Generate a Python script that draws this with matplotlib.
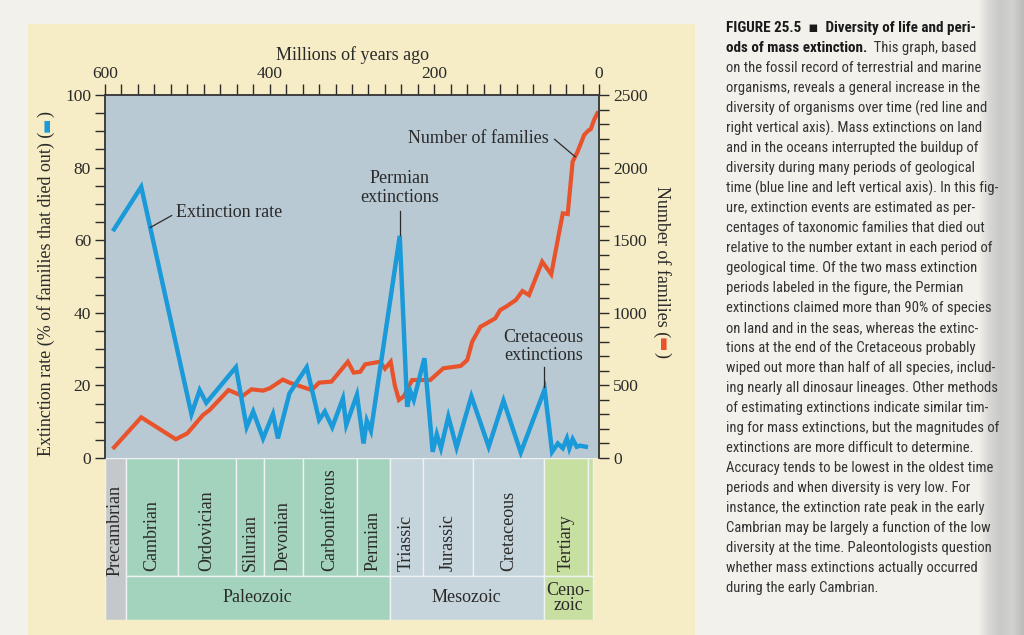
import numpy as np
import matplotlib.pyplot as plt
from matplotlib import font_manager as fm
from matplotlib.patches import Rectangle
from matplotlib.colors import LinearSegmentedColormap

# extinction rate (% of families that died out), blue line, left axis
ext_age = [589, 556, 495, 485, 477, 441, 428, 420, 408, 396, 390, 376, 355, 340,
           333, 324, 311, 307, 294, 286, 282, 277, 242, 233, 229, 225, 212, 202,
           197, 192, 183, 173, 155, 134, 116, 95, 66, 57, 50, 44, 39, 36, 32, 27,
           23, 16]
ext_rate = [63, 74.7, 12.1, 18.7, 15.2, 25, 8.5, 12.8, 5.4, 12.1, 5.4, 17.8, 25, 10.5,
            12.8, 8.5, 16.4, 9.1, 17.4, 4, 10.3, 7.5, 61.2, 14.1, 18.3, 16, 27.5, 1.7,
            6.5, 2.7, 11.4, 2.9, 17, 3.1, 15.8, 1.5, 18.9, 1.7, 4, 2.7, 5.4, 2.7, 5.2, 3.1,
            3.4, 3.1]

# number of families, red line, right axis
fam_age = [589, 556, 514, 500, 481, 473, 450, 433, 422, 408, 400, 384, 376, 349,
           340, 325, 305, 298, 290, 284, 266, 260, 253, 248, 243, 237, 227, 205,
           189, 168, 160, 154, 144, 140, 126, 120, 113, 101, 93, 85, 69, 58, 54,
           44, 38, 32, 26, 18, 13, 10, 6, 2]
fam_count = [73, 280, 129, 170, 296, 330, 468, 427, 473, 464, 480, 540, 519, 468,
             519, 526, 663, 588, 594, 645, 663, 615, 663, 500, 400, 425, 537, 537,
             618, 634, 675, 801, 904, 916, 962, 1019, 1042, 1088, 1150, 1122, 1352, 1265, 1386,
             1685, 1680, 2041, 2110, 2225, 2255, 2265, 2328, 2374]

# geological time table
period_names = ['Precambrian', 'Cambrian', 'Ordovician', 'Silurian', 'Devonian',
                'Carboniferous', 'Permian', 'Triassic', 'Jurassic', 'Cretaceous',
                'Tertiary', '']
period_edges = [600, 575, 511, 441, 407, 360, 294, 254, 214, 153, 67, 13, 7]
period_era = [-1, 0, 0, 0, 0, 0, 0, 1, 1, 1, 2, 2]
era_names = ['Paleozoic', 'Mesozoic', 'Ceno-\nzoic']
era_edges = [575, 254, 67, 7]
era_colors = ['#a4d3bd', '#c6d4db', '#c8dfa2']

caption = [
    "on the fossil record of terrestrial and marine",
    "organisms, reveals a general increase in the",
    "diversity of organisms over time (red line and",
    "right vertical axis). Mass extinctions on land",
    "and in the oceans interrupted the buildup of",
    "diversity during many periods of geological",
    "time (blue line and left vertical axis). In this fig-",
    "ure, extinction events are estimated as per-",
    "centages of taxonomic families that died out",
    "relative to the number extant in each period of",
    "geological time. Of the two mass extinction",
    "periods labeled in the figure, the Permian",
    "extinctions claimed more than 90% of species",
    "on land and in the seas, whereas the extinc-",
    "tions at the end of the Cretaceous probably",
    "wiped out more than half of all species, includ-",
    "ing nearly all dinosaur lineages. Other methods",
    "of estimating extinctions indicate similar tim-",
    "ing for mass extinctions, but the magnitudes of",
    "extinctions are more difficult to determine.",
    "Accuracy tends to be lowest in the oldest time",
    "periods and when diversity is very low. For",
    "instance, the extinction rate peak in the early",
    "Cambrian may be largely a function of the low",
    "diversity at the time. Paleontologists question",
    "whether mass extinctions actually occurred",
    "during the early Cambrian.",
]

BLUE = '#1a9ad8'
RED = '#e8532b'
INK = '#2a2a2a'

plt.rcParams['font.family'] = ['Liberation Serif', 'DejaVu Serif']

# condensed sans for the caption, whichever is installed
names = {f.name for f in fm.fontManager.ttflist}
if 'Roboto Condensed' in names:
    cap_family, cap_size = ['Roboto Condensed', 'DejaVu Sans'], 10.5
elif 'Liberation Sans Narrow' in names:
    cap_family, cap_size = ['Liberation Sans Narrow', 'DejaVu Sans'], 10.5
else:
    cap_family, cap_size = ['Roboto', 'DejaVu Sans'], 8.5

W, H = 1024, 635
fig = plt.figure(figsize=(W / 100, H / 100), dpi=100, facecolor='#f2f1ec')

# yellow panel behind the chart
fig.add_artist(Rectangle((28 / W, 0), 667 / W, 611 / H, transform=fig.transFigure,
                         facecolor='#f6edc6', edgecolor='none', zorder=0))

# gutter shadow at the right edge of the page
gutter = LinearSegmentedColormap.from_list(
    'gutter', ['#f2f1ec', '#d6d6d4', '#c9c9c8', '#d2d2d1', '#bcbcbb'])
gax = fig.add_axes([978 / W, 0, 46 / W, 1])
gax.imshow(np.linspace(0, 1, 46)[None, :], aspect='auto', cmap=gutter,
           extent=[0, 1, 0, 1])
gax.axis('off')

# main chart
ax = fig.add_axes([105 / W, 1 - 458 / H, 494 / W, 363 / H])
ax2 = ax.twinx()
ax.set_zorder(ax2.get_zorder() + 1)
ax.patch.set_visible(False)
ax2.patch.set_visible(True)
ax2.set_facecolor('#b9c9d4')

ax2.plot(fam_age, fam_count, color=RED, lw=3.0, solid_joinstyle='miter')
ax.plot(ext_age, ext_rate, color=BLUE, lw=3.2, solid_joinstyle='miter')

ax.set_xlim(600, 0)
ax.set_ylim(0, 100)
ax2.set_ylim(0, 2500)

ax.xaxis.tick_top()
ax.xaxis.set_label_position('top')
ax.set_xticks([600, 400, 200, 0])
ax.set_xticks(np.arange(0, 601, 20), minor=True)
ax.tick_params(axis='x', which='both', top=True, bottom=False, labeltop=True,
               labelbottom=False, direction='out', length=8, width=1, pad=1,
               labelsize=12.5, colors=INK)
ax.set_xlabel('Millions of years ago', fontsize=13, color=INK, labelpad=5)

ax.set_yticks(range(0, 101, 20))
ax.set_yticks(range(0, 101, 5), minor=True)
ax.tick_params(axis='y', which='both', direction='out', length=7, width=1,
               pad=3, labelsize=12.5, colors=INK)
ax2.set_yticks(range(0, 2501, 500))
ax2.set_yticks(range(0, 2501, 100), minor=True)
ax2.tick_params(axis='y', which='both', direction='out', length=7, width=1,
                pad=3, labelsize=12.5, colors=INK)

for a in (ax, ax2):
    a.spines['bottom'].set_visible(False)
    for s in ('left', 'top', 'right'):
        a.spines[s].set_color('#3a3a3a')
        a.spines[s].set_linewidth(1.1)

# annotations
ax.text(514, 67.5, 'Extinction rate', fontsize=13, color=INK, va='center')
ax.plot([519, 545], [66.8, 63.5], color=INK, lw=0.9)
ax.text(242, 69.5, 'Permian\nextinctions', fontsize=13, color=INK,
        ha='center', va='bottom', linespacing=1.1)
ax.plot([242, 242], [61.5, 68.0], color=INK, lw=0.9)
ax.text(67.5, 25.9, 'Cretaceous\nextinctions', fontsize=13, color=INK,
        ha='center', va='bottom', linespacing=1.1)
ax.plot([66.5, 66.5], [19.5, 25.2], color=INK, lw=0.9)
ax2.text(61, 2200, 'Number of families', fontsize=13, color=INK,
         ha='right', va='center')
ax2.plot([54, 29], [2195, 2075], color=INK, lw=0.9)

# axis titles with coloured line keys
t1 = fig.text(46 / W, 1 - 456 / H, 'Extinction rate (% of families that died out) (',
              rotation=90, ha='center', va='bottom', fontsize=13, color=INK)
t2 = ax.annotate('\u25ac', xy=(0.5, 1), xycoords=t1, rotation=90, ha='center',
                 va='bottom', fontsize=11, color=BLUE, family=['DejaVu Sans'],
                 annotation_clip=False)
ax.annotate(')', xy=(0.5, 1), xycoords=t2, rotation=90, ha='center', va='bottom',
            fontsize=13, color=INK, annotation_clip=False)

r1 = fig.text(662 / W, 1 - 186 / H, 'Number of families (', rotation=-90,
              ha='center', va='top', fontsize=13, color=INK)
r2 = ax.annotate('\u25ac', xy=(0.5, 0), xycoords=r1, rotation=-90, ha='center',
                 va='top', fontsize=11, color=RED, family=['DejaVu Sans'],
                 annotation_clip=False)
ax.annotate(')', xy=(0.5, 0), xycoords=r2, rotation=-90, ha='center', va='top',
            fontsize=13, color=INK, annotation_clip=False)

# geological time table under the chart
tax = fig.add_axes([105 / W, 1 - 620 / H, 494 / W, 162 / H])
tax.set_xlim(600, 0)
tax.set_ylim(0, 1)
tax.axis('off')
split = 0.272
for i, name in enumerate(period_names):
    a0, a1 = period_edges[i], period_edges[i + 1]
    if period_era[i] < 0:
        tax.add_patch(Rectangle((a1, 0), a0 - a1, 1, facecolor='#c5c8cb',
                                edgecolor='#eef2f2', lw=1))
        tax.text((a0 + a1) / 2, 0.55, name, rotation=90, ha='center', va='center',
                 fontsize=13, color=INK)
    else:
        tax.add_patch(Rectangle((a1, split), a0 - a1, 1 - split,
                                facecolor=era_colors[period_era[i]],
                                edgecolor='#eef2f2', lw=1))
        tax.text((a0 + a1) / 2, 0.30, name, rotation=90, ha='center', va='bottom',
                 fontsize=13, color=INK)
for j, name in enumerate(era_names):
    a0, a1 = era_edges[j], era_edges[j + 1]
    tax.add_patch(Rectangle((a1, 0), a0 - a1, split, facecolor=era_colors[j],
                            edgecolor='#eef2f2', lw=1))
    tax.text((a0 + a1) / 2, split / 2, name, ha='center', va='center', fontsize=13,
             color=INK, linespacing=0.85)

# caption on the right
x0 = 726 / W
fig.text(x0, 1 - 28 / H, 'FIGURE 25.5  \u25aa  Diversity of life and peri-',
         family=cap_family, fontsize=cap_size + 0.4, weight='bold', color='#1a1a1a',
         va='center')
b = fig.text(x0, 1 - 48 / H, 'ods of mass extinction.', family=cap_family,
             fontsize=cap_size + 0.4, weight='bold', color='#1a1a1a', va='center')
ax.annotate('  This graph, based', xy=(1, 0.5), xycoords=b, va='center', ha='left',
            family=cap_family, fontsize=cap_size, color='#333333',
            annotation_clip=False)
for k, line in enumerate(caption):
    fig.text(x0, 1 - (68 + 20 * k) / H, line, family=cap_family, fontsize=cap_size,
             color='#333333', va='center')

fig.savefig('out.png', dpi=100, facecolor=fig.get_facecolor())
